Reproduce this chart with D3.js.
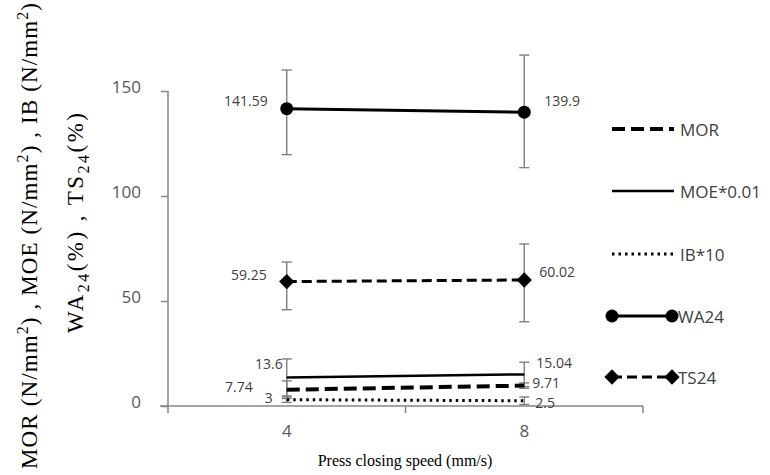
<!DOCTYPE html>
<html>
<head>
<meta charset="utf-8">
<script src="https://cdn.jsdelivr.net/npm/d3@7.9.0/dist/d3.min.js"></script>
<style>
  html, body { margin: 0; padding: 0; background: #fff; }
  svg { display: block; }
  .tick text { font-family: 'Open Sans', sans-serif; fill: #595959; }
</style>
</head>
<body>
<svg id="chart" width="770" height="475"></svg>
<script>
// press closing speed (mm/s)
const speeds = ['4', '8'];
const yTicks = [0, 50, 100, 150];

// series values
const morValues = [7.74, 9.71];
const moeValues = [13.6, 15.04];
const ibValues = [3, 2.5];
const wa24Values = [141.59, 139.9];
const ts24Values = [59.25, 60.02];

// error bars (plus / minus)
const morErrUp = [4.2, 1.3];
const morErrDown = [4.2, 1.3];
const moeErrUp = [8.8, 5.8];
const moeErrDown = [8.8, 5.8];
const ibErrUp = [1.3, 1.8];
const ibErrDown = [1.3, 1.8];
const wa24ErrUp = [18.4, 27.2];
const wa24ErrDown = [21.9, 26.4];
const ts24ErrUp = [9.3, 17.1];
const ts24ErrDown = [13.4, 19.9];

const seriesNames = ['MOR', 'MOE*0.01', 'IB*10', 'WA24', 'TS24'];

const series = [
  { name: seriesNames[0], values: morValues, up: morErrUp, down: morErrDown,
    width: 4, dash: '13,6', marker: null, lab: [[-34, -3], [8, -3]] },
  { name: seriesNames[1], values: moeValues, up: moeErrUp, down: moeErrDown,
    width: 2.5, dash: null, marker: null, lab: [[-4, -14], [12, -12]] },
  { name: seriesNames[2], values: ibValues, up: ibErrUp, down: ibErrDown,
    width: 3, dash: '2.5,4', marker: null, lab: [[-14, -2], [11, 2]] },
  { name: seriesNames[3], values: wa24Values, up: wa24ErrUp, down: wa24ErrDown,
    width: 3, dash: null, marker: 'circle', lab: [[-19, -8], [20, -12]] },
  { name: seriesNames[4], values: ts24Values, up: ts24ErrUp, down: ts24ErrDown,
    width: 3, dash: '10,5', marker: 'diamond', lab: [[-20, -7], [15, -8]] }
];

const svg = d3.select('#chart');

const x = d3.scaleBand().domain(speeds).range([168, 643]);
const y = d3.scaleLinear().domain([0, 150]).range([406, 91]);
const cx = (s) => x(s) + x.bandwidth() / 2;

// axes
const yAxis = svg.append('g')
  .attr('transform', 'translate(168,0)')
  .call(d3.axisLeft(y).tickValues(yTicks).tickSize(7).tickPadding(20));
yAxis.selectAll('text').style('font-size', '17px').attr('dy', '0.1em');

const xAxis = svg.append('g')
  .attr('transform', 'translate(0,406)')
  .call(d3.axisBottom(x).tickSize(0).tickPadding(16));
xAxis.selectAll('text').style('font-size', '17px').attr('dy', '0.9em');
// category boundary ticks
xAxis.selectAll('.bound')
  .data([0, 1, 2])
  .join('line')
  .attr('class', 'bound')
  .attr('x1', (i) => 168 + i * x.bandwidth())
  .attr('x2', (i) => 168 + i * x.bandwidth())
  .attr('y1', 0)
  .attr('y2', 7);

svg.selectAll('.domain, .tick line, .bound')
  .attr('stroke', '#868686')
  .attr('stroke-width', 1.5);
yAxis.select('.domain').attr('d', 'M0,91V406');
xAxis.select('.domain').attr('d', 'M160,0H643');

// error bars
const errG = svg.append('g').attr('stroke', '#7f7f7f').attr('stroke-width', 1.4);
series.forEach((s) => {
  speeds.forEach((sp, i) => {
    const top = y(s.values[i] + s.up[i]);
    const bot = y(Math.max(0, s.values[i] - s.down[i]));
    const px = cx(sp);
    errG.append('line').attr('x1', px).attr('x2', px).attr('y1', top).attr('y2', bot);
    errG.append('line').attr('x1', px - 5).attr('x2', px + 5).attr('y1', top).attr('y2', top);
    errG.append('line').attr('x1', px - 5).attr('x2', px + 5).attr('y1', bot).attr('y2', bot);
  });
});

// lines
const line = d3.line().x((d) => cx(d[0])).y((d) => y(d[1]));
const diamond = d3.symbol().type(d3.symbolDiamond2).size(150);

series.forEach((s) => {
  const pts = speeds.map((sp, i) => [sp, s.values[i]]);
  svg.append('path')
    .attr('d', line(pts))
    .attr('fill', 'none')
    .attr('stroke', '#000')
    .attr('stroke-width', s.width)
    .attr('stroke-dasharray', s.dash);
  if (s.marker === 'circle') {
    svg.selectAll(null).data(pts).join('circle')
      .attr('cx', (d) => cx(d[0])).attr('cy', (d) => y(d[1])).attr('r', 6.5)
      .attr('fill', '#000');
  } else if (s.marker === 'diamond') {
    svg.selectAll(null).data(pts).join('path')
      .attr('d', diamond)
      .attr('transform', (d) => `translate(${cx(d[0])},${y(d[1])})`)
      .attr('fill', '#000');
  }
  // data labels
  pts.forEach((d, i) => {
    svg.append('text')
      .attr('x', cx(d[0]) + s.lab[i][0])
      .attr('y', y(d[1]) + s.lab[i][1])
      .attr('text-anchor', i === 0 ? 'end' : 'start')
      .attr('dominant-baseline', 'central')
      .attr('font-family', 'Open Sans, sans-serif')
      .attr('font-size', 14)
      .attr('fill', '#404040')
      .text(d[1]);
  });
});

// legend
const legY = [129, 191, 254, 316, 377];
const leg = svg.append('g');
series.forEach((s, i) => {
  const g = leg.append('g').attr('transform', `translate(0,${legY[i]})`);
  g.append('line')
    .attr('x1', 612).attr('x2', s.marker ? 672 : 674)
    .attr('stroke', '#000')
    .attr('stroke-width', s.width)
    .attr('stroke-dasharray', s.dash);
  if (s.marker === 'circle') {
    g.selectAll('circle').data([612, 672]).join('circle')
      .attr('cx', (d) => d).attr('r', 6.5).attr('fill', '#000');
  } else if (s.marker === 'diamond') {
    g.selectAll('.m').data([612, 672]).join('path')
      .attr('d', diamond).attr('transform', (d) => `translate(${d},0)`).attr('fill', '#000');
  }
  g.append('text')
    .attr('x', s.marker ? 678 : 680)
    .attr('dominant-baseline', 'central')
    .attr('font-family', 'Open Sans, sans-serif')
    .attr('font-size', 17)
    .attr('fill', '#404040')
    .text(s.name);
});

// axis titles
const serif = 'Liberation Serif, Times New Roman, serif';
svg.append('text')
  .attr('x', 405).attr('y', 466)
  .attr('text-anchor', 'middle')
  .attr('font-family', serif)
  .attr('font-size', 16)
  .attr('fill', '#000')
  .text('Press closing speed (mm/s)');

const t1 = svg.append('text')
  .attr('transform', 'translate(37,236) rotate(-90)')
  .attr('text-anchor', 'middle')
  .attr('font-family', serif)
  .attr('font-size', 23)
  .attr('fill', '#000')
  .attr('textLength', 466)
  .attr('lengthAdjust', 'spacing');
['MOR', 'MOE', 'IB'].forEach((nm, i) => {
  t1.append('tspan').text((i ? ' , ' : '') + nm + ' (N/mm');
  t1.append('tspan').attr('dy', -9).attr('font-size', 16).text('2');
  t1.append('tspan').attr('dy', 9).text(')');
});

const t2 = svg.append('text')
  .attr('transform', 'translate(83,223) rotate(-90)')
  .attr('text-anchor', 'middle')
  .attr('font-family', serif)
  .attr('font-size', 23)
  .attr('fill', '#000')
  .attr('textLength', 220)
  .attr('lengthAdjust', 'spacing');
['WA', 'TS'].forEach((nm, i) => {
  t2.append('tspan').text((i ? ' , ' : '') + nm);
  t2.append('tspan').attr('dy', 6).attr('font-size', 16).text('24');
  t2.append('tspan').attr('dy', -6).text('(%)');
});
</script>
</body>
</html>
